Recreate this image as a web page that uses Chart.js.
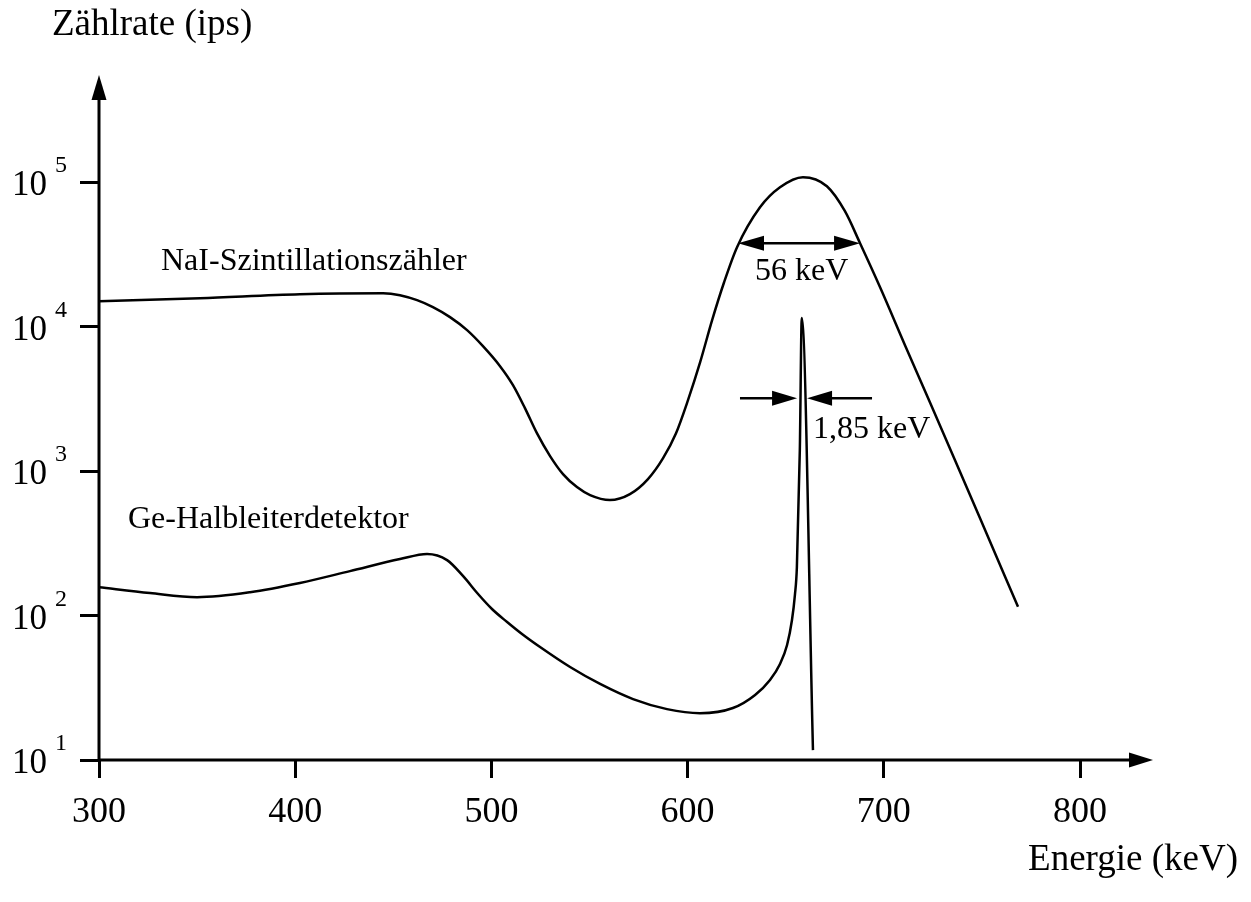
<!DOCTYPE html>
<html><head><meta charset="utf-8">
<script src="https://cdn.jsdelivr.net/npm/chart.js@4.4.1/dist/chart.umd.min.js"></script>
<style>html,body{margin:0;padding:0;background:#fff;overflow:hidden}#wrap{width:1251px;height:902px}</style>
</head><body><div id="wrap"><canvas id="c" width="1251" height="902"></canvas></div>
<script>
// ---- data ----
const naiEnergy = [300, 351.5, 402.4, 444.8, 453.4, 462.1, 470.2, 478.9, 487.6, 495.7, 504.4, 511.0, 517.1, 523.2, 529.9, 536.5, 543.6, 550.3, 560.4, 570.6, 579.8, 587.5, 594.1, 600.2, 606.4, 612.5, 618.6, 625.2, 636.9, 647.1, 658.8, 671.0, 680.2, 687.9, 698.1, 710.8, 723.5, 736.3, 749.0, 768.4];
const naiRate = [15000, 15740, 16790, 17060, 16520, 15250, 13650, 11640, 9460, 7330, 5330, 3940, 2730, 1830, 1270, 953, 775, 682, 630, 693, 881, 1230, 1830, 3100, 5680, 11100, 20300, 35500, 67100, 92300, 108400, 93800, 63000, 37800, 18750, 7450, 3000, 1190, 473, 115];
const geEnergy = [300, 326.0, 350.0, 377.0, 402.4, 427.9, 453.4, 467.2, 477.4, 485.5, 493.2, 500.3, 508.0, 515.6, 524.8, 540.1, 555.4, 572.2, 589.5, 606.3, 623.1, 634.4, 642.0, 647.1, 650.7, 653.2, 654.7, 655.7, 657.2, 658.2, 663.9];
const geRate = [157, 143, 134, 145, 168, 203, 246, 267, 242, 188, 141, 111, 90.2, 74.5, 60.5, 44.0, 33.6, 26.4, 22.5, 21.1, 22.9, 28.2, 35.8, 46.2, 62.5, 93.1, 139, 217, 1400, 11500, 11.7];
const xTicks = [300, 400, 500, 600, 700, 800];
const yTicks = [10, 100, 1000, 10000, 100000];
const yTickBase = '10';
const yTickExponents = ['1', '2', '3', '4', '5'];
const xTitle = 'Energie (keV)';
const yTitle = 'Zählrate (ips)';
const naiLabel = 'NaI-Szintillationszähler';
const geLabel = 'Ge-Halbleiterdetektor';
const naiFwhmLabel = '56 keV';
const geFwhmLabel = '1,85 keV';
const naiFwhmEnergy = [625.7, 687.9];
const naiFwhmRate = [37800];
const geFwhmEnergy = [626.7, 655.8, 660.9, 694];
const geFwhmRate = [3200];

const FONT = '"Liberation Serif", "Times New Roman", serif';

function head(ctx, tx, ty, dx, dy, len, hw) {
  const bx = tx - dx * len, by = ty - dy * len;
  const px = -dy, py = dx;
  ctx.beginPath();
  ctx.moveTo(tx, ty);
  ctx.lineTo(bx + px * hw, by + py * hw);
  ctx.lineTo(bx - px * hw, by - py * hw);
  ctx.closePath();
  ctx.fill();
}

const overlay = {
  id: 'overlay',
  afterDraw(chart) {
    const ctx = chart.ctx, xs = chart.scales.x, ys = chart.scales.y;
    const L = xs.getPixelForValue(xs.min);
    const B = ys.getPixelForValue(ys.min);
    const R = xs.right, T = ys.top;
    ctx.save();
    ctx.strokeStyle = '#000'; ctx.fillStyle = '#000';
    ctx.lineWidth = 3; ctx.lineCap = 'butt';
    ctx.beginPath(); ctx.moveTo(L, B + 1); ctx.lineTo(L, T - 12); ctx.stroke();
    head(ctx, L, T - 35, 0, -1, 25, 7.5);
    ctx.beginPath(); ctx.moveTo(L - 1, B); ctx.lineTo(R + 52, B); ctx.stroke();
    head(ctx, R + 73, B, 1, 0, 24, 7.5);

    yTicks.forEach((v, i) => {
      const y = ys.getPixelForValue(v);
      ctx.font = '35px ' + FONT;
      ctx.textAlign = 'right'; ctx.textBaseline = 'alphabetic';
      ctx.fillText(yTickBase, 47, y + 13);
      ctx.font = '24px ' + FONT;
      ctx.textAlign = 'left';
      ctx.fillText(yTickExponents[i], 55, y - 10);
    });

    ctx.font = '37px ' + FONT;
    ctx.textAlign = 'left'; ctx.textBaseline = 'alphabetic';
    ctx.fillText(yTitle, 52, 35);
    ctx.textAlign = 'right';
    ctx.fillText(xTitle, 1238, 870);

    ctx.font = '32px ' + FONT;
    ctx.textAlign = 'left';
    ctx.fillText(naiLabel, 161, 270);
    ctx.fillText(geLabel, 128, 528);

    ctx.lineWidth = 2.5;
    const ny = ys.getPixelForValue(naiFwhmRate[0]);
    const n1 = xs.getPixelForValue(naiFwhmEnergy[0]), n2 = xs.getPixelForValue(naiFwhmEnergy[1]);
    ctx.beginPath(); ctx.moveTo(n1 + 10, ny); ctx.lineTo(n2 - 10, ny); ctx.stroke();
    head(ctx, n1, ny, -1, 0, 26, 7.5);
    head(ctx, n2, ny, 1, 0, 26, 7.5);
    ctx.fillText(naiFwhmLabel, n1 + 17, ny + 37);

    const gy = ys.getPixelForValue(geFwhmRate[0]);
    const g = geFwhmEnergy.map(e => xs.getPixelForValue(e));
    ctx.beginPath(); ctx.moveTo(g[0], gy); ctx.lineTo(g[1] - 10, gy); ctx.stroke();
    head(ctx, g[1], gy, 1, 0, 25, 7.5);
    ctx.beginPath(); ctx.moveTo(g[2] + 10, gy); ctx.lineTo(g[3], gy); ctx.stroke();
    head(ctx, g[2], gy, -1, 0, 25, 7.5);
    ctx.fillText(geFwhmLabel, g[2] + 6, gy + 40);
    ctx.restore();
  }
};

const toPts = (xs, ys) => xs.map((x, i) => ({ x, y: ys[i] }));

new Chart(document.getElementById('c'), {
  type: 'line',
  data: {
    datasets: [
      { label: naiLabel, data: toPts(naiEnergy, naiRate), borderColor: '#000', borderWidth: 2.5, pointRadius: 0, cubicInterpolationMode: 'monotone', fill: false },
      { label: geLabel, data: toPts(geEnergy, geRate), borderColor: '#000', borderWidth: 2.5, pointRadius: 0, cubicInterpolationMode: 'monotone', fill: false }
    ]
  },
  options: {
    responsive: false,
    devicePixelRatio: 1,
    animation: false,
    events: [],
    layout: { padding: { top: 110, right: 171, bottom: 0, left: 0 } },
    plugins: { legend: { display: false }, tooltip: { enabled: false }, title: { display: false } },
    scales: {
      x: {
        type: 'linear', min: 300, max: 800,
        afterBuildTicks: s => { s.ticks = xTicks.map(v => ({ value: v })); },
        afterFit: s => { s.height = 142; },
        ticks: { color: '#000', font: { family: FONT, size: 36 }, padding: 13, maxRotation: 0, autoSkip: false, callback: v => String(v) },
        grid: { display: true, drawOnChartArea: false, drawTicks: true, tickLength: 18, lineWidth: 3, color: '#000' },
        border: { display: false }
      },
      y: {
        type: 'logarithmic', min: 10, max: Math.pow(10, 5.5),
        afterBuildTicks: s => { s.ticks = yTicks.map(v => ({ value: v })); },
        afterFit: s => { s.width = 99; },
        ticks: { display: false },
        grid: { display: true, drawOnChartArea: false, drawTicks: true, tickLength: 19, lineWidth: 3, color: '#000' },
        border: { display: false }
      }
    }
  },
  plugins: [overlay]
});
</script>
</body></html>
